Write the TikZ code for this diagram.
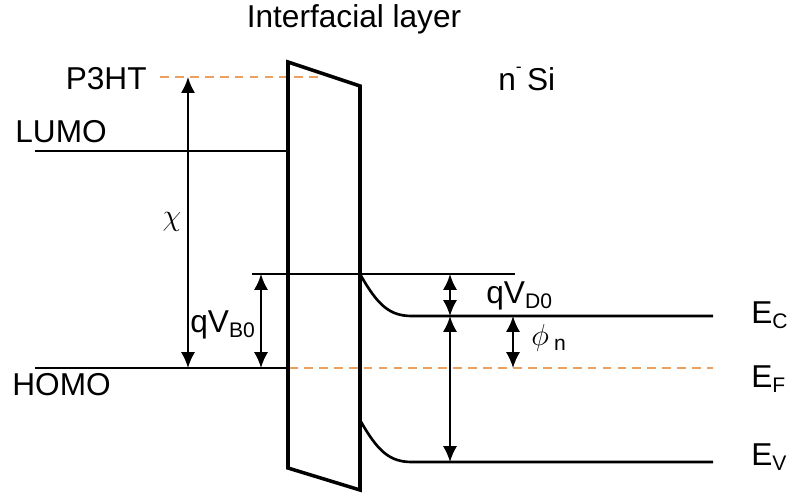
\documentclass[tikz,border=0pt]{standalone}
\usepackage{fontspec}
\setmainfont{Liberation Sans}
\usetikzlibrary{arrows.meta}
\definecolor{fermiorange}{RGB}{235,160,95}
\newcommand{\lsub}[1]{{\fontsize{12}{14}\selectfont\raisebox{-0.25em}{#1}}}
\tikzset{
  band/.style={line width=1.5pt},
  barrier/.style={line width=2pt, line join=miter},
  fermi/.style={fermiorange, line width=0.9pt, dash pattern=on 5pt off 3.5pt},
  dim/.style={{Latex[length=9pt,width=8pt]}-{Latex[length=9pt,width=8pt]}, line width=1.2pt},
  lbl/.style={font=\fontsize{18}{21}\selectfont, inner sep=0pt},
}
\begin{document}
\begin{tikzpicture}[x=0.02cm,y=-0.02cm]
	\useasboundingbox (0,0) rectangle (792,495);
	% levels
	\coordinate (p3ht) at (160,77);
	\coordinate (lumo) at (35,151);
	\coordinate (homo) at (35,368);
	\coordinate (top) at (252,274);
	\coordinate (ec) at (412,316);
	\coordinate (ev) at (412,462);
	\coordinate (ef) at (289,368);
	\draw[fermi] (p3ht) -- (318,77);
	\draw[band] (lumo) -- (289,151);
	\draw[band] (homo) -- (ef);
	\draw[fermi] (ef) -- (713,368);
	\draw[band] (top) -- (515,274);
	\draw[band] (360,274) .. controls (378,306) and (390,316) .. (ec) -- (713,316);
	\draw[band] (360,420) .. controls (378,452) and (390,462) .. (ev) -- (713,462);
	% interfacial layer
	\draw[barrier] (288,62) -- (360,86) -- (360,490) -- (288,468) -- cycle;
	% arrows
	\coordinate (chi) at (188,77);
	\coordinate (vb) at (261,274);
	\coordinate (vd) at (450,274);
	\coordinate (phi) at (513,316);
	\draw[dim] (chi) -- (chi |- homo);
	\draw[dim] (vb) -- (vb |- homo);
	\draw[dim] (vd) -- (vd |- ec);
	\draw[dim] (vd |- ec) -- (vd |- ev);
	\draw[dim] (phi) -- (phi |- homo);
	% labels
	\node[lbl, anchor=base] (il) at (354,27) {Interfacial layer};
	\node[lbl, anchor=base west] (nsi) at (498,90) {n\raisebox{0.55em}{\fontsize{10}{12}\selectfont -}\,Si};
	\node[lbl, anchor=base east] (p3htlbl) at (147,89) {P3HT};
	\node[lbl, anchor=base west] (lumolbl) at (15,142) {LUMO};
	\node[lbl, anchor=base west] (homolbl) at (12,395) {HOMO};
	\node[lbl] (chilbl) at (172,222) {$\chi$};
	\node[lbl, anchor=base west] (vblbl) at (190,332) {qV\lsub{B0}};
	\node[lbl, anchor=base west] (vdlbl) at (486,303) {qV\lsub{D0}};
	\node[lbl, anchor=base west] (philbl) at (531,345) {$\phi$\,\lsub{n}};
	\node[lbl, anchor=base west] (eclbl) at (751,323) {E\lsub{C}};
	\node[lbl, anchor=base west] (eflbl) at (751,387) {E\lsub{F}};
	\node[lbl, anchor=base west] (evlbl) at (751,465) {E\lsub{V}};
\end{tikzpicture}
\end{document}
